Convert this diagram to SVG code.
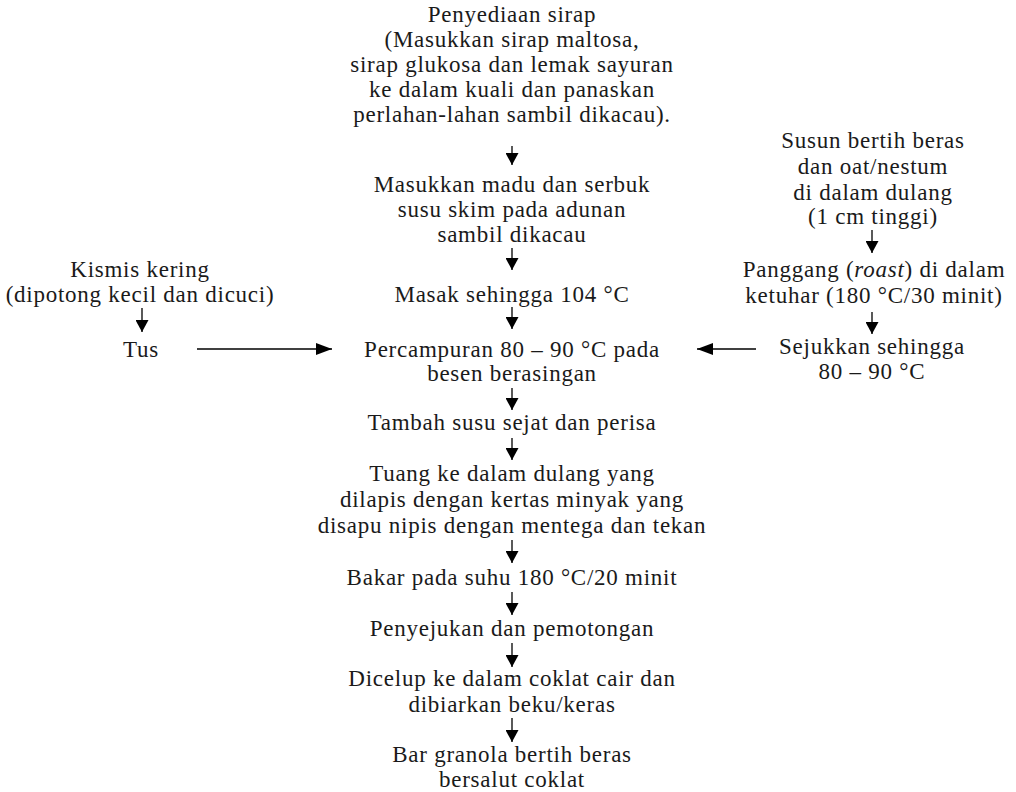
<svg xmlns="http://www.w3.org/2000/svg" width="1016" height="792" viewBox="0 0 1016 792">
<style>
text{font-family:"Liberation Serif","DejaVu Serif",serif;font-size:23px;letter-spacing:0.75px;fill:#1a1a1a;text-anchor:middle}
.c{stroke:#000;stroke-width:1.3;fill:none}
</style>
<defs>
<marker id="ah" viewBox="0 0 12 13" refX="12" refY="6.5" markerWidth="12" markerHeight="13" markerUnits="userSpaceOnUse" orient="auto"><path d="M0,0 L12,6.5 L0,13 z" fill="#000"/></marker>
<marker id="ahh" viewBox="0 0 16 12" refX="16" refY="6" markerWidth="16" markerHeight="12" markerUnits="userSpaceOnUse" orient="auto"><path d="M0,0 L16,6 L0,12 z" fill="#000"/></marker>
</defs>
<rect width="1016" height="792" fill="#fff"/>
<g id="n1"><text x="512" y="22">Penyediaan sirap</text><text x="512" y="47">(Masukkan sirap maltosa,</text><text x="512" y="72">sirap glukosa dan lemak sayuran</text><text x="512" y="97">ke dalam kuali dan panaskan</text><text x="512" y="122">perlahan-lahan sambil dikacau).</text></g>
<g id="n2"><text x="512" y="192">Masukkan madu dan serbuk</text><text x="512" y="217">susu skim pada adunan</text><text x="512" y="242">sambil dikacau</text></g>
<g id="n3"><text x="512" y="302">Masak sehingga 104 °C</text></g>
<g id="n4"><text x="512" y="357">Percampuran 80 – 90 °C pada</text><text x="512" y="381">besen berasingan</text></g>
<g id="n5"><text x="512" y="430">Tambah susu sejat dan perisa</text></g>
<g id="n6"><text x="512" y="481">Tuang ke dalam dulang yang</text><text x="512" y="507">dilapis dengan kertas minyak yang</text><text x="512" y="533">disapu nipis dengan mentega dan tekan</text></g>
<g id="n7"><text x="512" y="585">Bakar pada suhu 180 °C/20 minit</text></g>
<g id="n8"><text x="512" y="636">Penyejukan dan pemotongan</text></g>
<g id="n9"><text x="512" y="686">Dicelup ke dalam coklat cair dan</text><text x="512" y="712">dibiarkan beku/keras</text></g>
<g id="n10"><text x="512" y="762">Bar granola bertih beras</text><text x="512" y="787">bersalut coklat</text></g>
<g id="l1"><text x="140" y="277">Kismis kering</text><text x="140" y="302">(dipotong kecil dan dicuci)</text></g>
<g id="l2"><text x="141" y="357">Tus</text></g>
<g id="r1"><text x="873" y="148">Susun bertih beras</text><text x="873" y="174">dan oat/nestum</text><text x="873" y="200">di dalam dulang</text><text x="873" y="224">(1 cm tinggi)</text></g>
<g id="r2"><text x="874" y="277">Panggang (<tspan font-style="italic">roast</tspan>) di dalam</text><text x="874" y="303">ketuhar (180 °C/30 minit)</text></g>
<g id="r3"><text x="872" y="354">Sejukkan sehingga</text><text x="872" y="379">80 – 90 °C</text></g>
<g id="connectors">
<path class="c" d="M512,146 V165" marker-end="url(#ah)"/>
<path class="c" d="M512,248 V270" marker-end="url(#ah)"/>
<path class="c" d="M512,307 V329" marker-end="url(#ah)"/>
<path class="c" d="M512,388 V410" marker-end="url(#ah)"/>
<path class="c" d="M512,438 V460" marker-end="url(#ah)"/>
<path class="c" d="M512,540 V563" marker-end="url(#ah)"/>
<path class="c" d="M512,592 V615" marker-end="url(#ah)"/>
<path class="c" d="M512,643 V667" marker-end="url(#ah)"/>
<path class="c" d="M512,718 V742" marker-end="url(#ah)"/>
<path class="c" d="M142,308 V332" marker-end="url(#ah)"/>
<path class="c" d="M872,230 V253" marker-end="url(#ah)"/>
<path class="c" d="M872,312 V334" marker-end="url(#ah)"/>
<path class="c" d="M197,349 H332" marker-end="url(#ahh)"/>
<path class="c" d="M756,349 H697" marker-end="url(#ahh)"/>
</g>
</svg>
